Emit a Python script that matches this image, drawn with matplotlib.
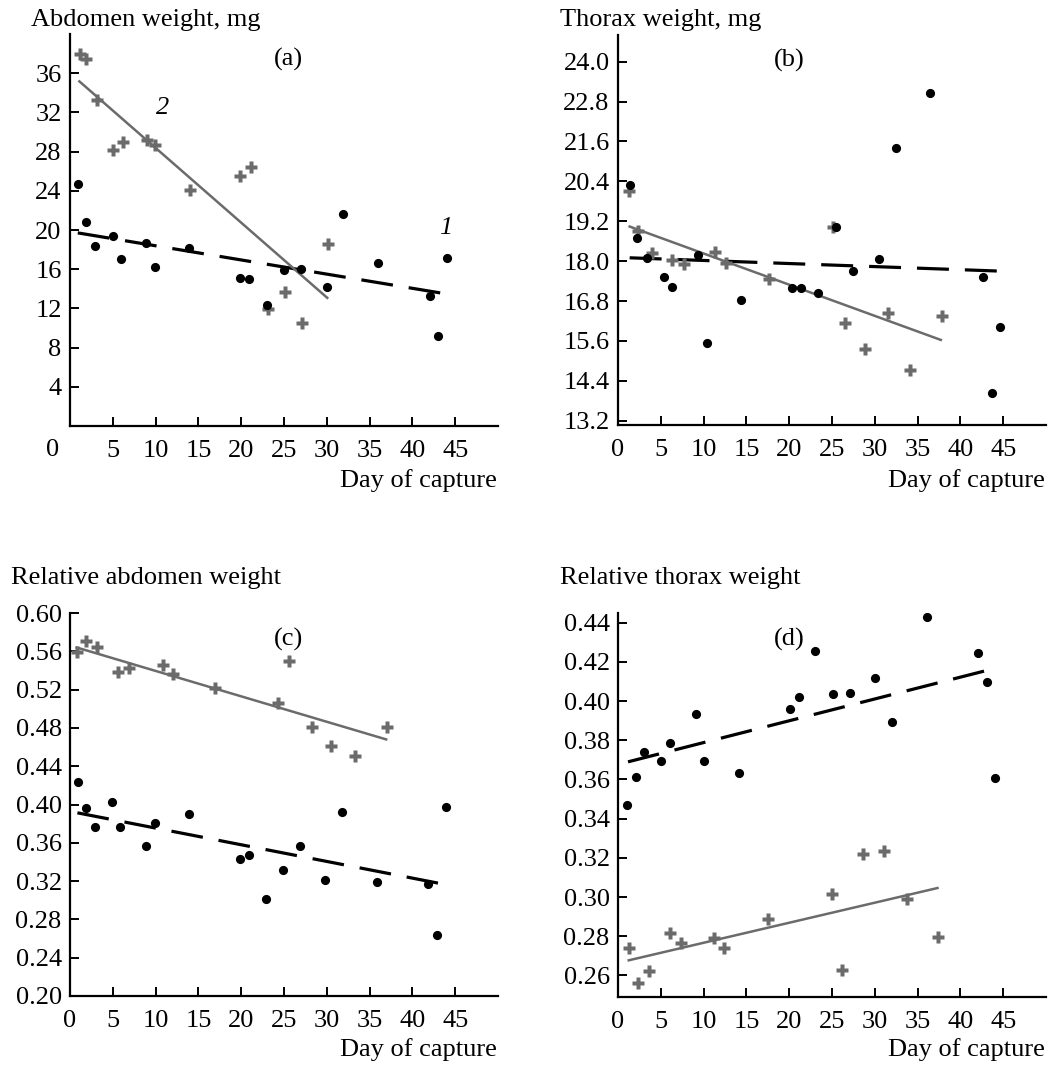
import matplotlib
matplotlib.use('Agg')
import matplotlib.pyplot as plt
import numpy as np

plt.rcParams['font.family'] = ['Liberation Serif', 'DejaVu Serif']
plt.rcParams['font.size'] = 19

GRAY = '#6b6b6b'

# (a) abdomen weight, mg
a_dot_x = [0.98, 1.87, 2.89, 4.96, 5.93, 8.90, 9.87, 13.93, 19.87, 20.92, 22.95, 24.94, 26.97, 29.98, 31.89, 35.95, 42.04, 42.94, 44.03]
a_dot_y = [24.67, 20.83, 18.42, 19.37, 17.02, 18.72, 16.24, 18.21, 15.12, 15.02, 12.33, 15.97, 16.04, 14.20, 21.61, 16.68, 13.22, 9.17, 17.19]
a_crs_x = [1.17, 1.87, 3.12, 5.07, 6.13, 8.98, 9.95, 14.05, 19.91, 21.16, 23.15, 25.10, 27.05, 30.17]
a_crs_y = [37.92, 37.44, 33.23, 28.13, 28.98, 29.22, 28.71, 24.13, 25.48, 26.44, 11.99, 13.63, 10.53, 18.62]
a_fit1 = ([0.90, 44.1], [19.71, 13.46])
a_fit2 = ([1.09, 30.05], [35.17, 13.08])

# (b) thorax weight, mg
b_dot_x = [1.36, 2.26, 3.39, 5.38, 6.35, 9.35, 10.40, 14.41, 20.37, 21.43, 23.41, 25.44, 27.46, 30.50, 32.45, 36.50, 42.58, 43.63, 44.60]
b_dot_y = [20.29, 18.69, 18.08, 17.53, 17.23, 18.18, 15.53, 16.83, 17.18, 17.20, 17.05, 19.04, 17.70, 18.05, 21.41, 23.05, 17.53, 14.02, 16.03]
b_crs_x = [1.29, 2.34, 3.93, 6.35, 7.67, 11.30, 12.58, 17.65, 25.17, 26.49, 28.90, 31.55, 34.09, 37.79]
b_crs_y = [20.11, 18.91, 18.23, 18.03, 17.91, 18.28, 17.93, 17.45, 19.04, 16.13, 15.35, 16.43, 14.74, 16.36]
b_fit1 = ([1.36, 44.6], [18.10, 17.70])
b_fit2 = ([1.36, 37.71], [19.04, 15.63])

# (c) relative abdomen weight
c_dot_x = [0.94, 1.83, 2.89, 4.88, 5.85, 8.85, 9.91, 13.92, 19.81, 20.87, 22.89, 24.88, 26.91, 29.84, 31.79, 35.84, 41.81, 42.82, 43.88]
c_dot_y = [0.4234, 0.3965, 0.3766, 0.4028, 0.3766, 0.3564, 0.3808, 0.3906, 0.3431, 0.3476, 0.3016, 0.3319, 0.3564, 0.3215, 0.3920, 0.3190, 0.3173, 0.2639, 0.3972]
c_crs_x = [0.78, 1.91, 3.20, 5.62, 6.90, 10.84, 12.05, 16.89, 24.26, 25.62, 28.28, 30.50, 33.31, 37.05]
c_crs_y = [0.5595, 0.5710, 0.5640, 0.5386, 0.5430, 0.5455, 0.5368, 0.5222, 0.5065, 0.5500, 0.4813, 0.4610, 0.4506, 0.4813]
c_fit1 = ([0.86, 43.95], [0.3913, 0.3162])
c_fit2 = ([0.78, 36.93], [0.564, 0.468])

# (d) relative thorax weight
d_dot_x = [1.09, 2.06, 3.04, 5.03, 6.04, 9.08, 10.05, 14.10, 20.10, 21.11, 23.06, 25.09, 27.07, 30.00, 32.06, 36.07, 42.00, 43.05, 44.06]
d_dot_y = [0.3468, 0.3613, 0.3741, 0.3693, 0.3787, 0.3932, 0.3693, 0.3634, 0.3959, 0.4022, 0.4255, 0.4034, 0.4042, 0.4119, 0.3894, 0.4431, 0.4243, 0.4099, 0.3605]
d_crs_x = [1.25, 2.34, 3.62, 6.12, 7.40, 11.18, 12.35, 17.53, 25.05, 26.22, 28.63, 31.05, 33.77, 37.40]
d_crs_y = [0.2740, 0.2562, 0.2622, 0.2818, 0.2765, 0.2791, 0.2740, 0.2886, 0.3014, 0.2629, 0.3218, 0.3233, 0.2988, 0.2796]
d_fit1 = ([1.17, 44.02], [0.369, 0.4167])
d_fit2 = ([1.25, 37.32], [0.2677, 0.3046])

x_ticks = [0, 5, 10, 15, 20, 25, 30, 35, 40, 45]


def style_axes(ax):
    for side in ('top', 'right'):
        ax.spines[side].set_visible(False)
    for side in ('left', 'bottom'):
        ax.spines[side].set_linewidth(1.6)
    ax.tick_params(direction='in', length=6.5, width=1.4)
    ax.tick_params(axis='x', pad=10)
    ax.tick_params(axis='y', pad=6)
    ax.set_xlim(0, 50)


def draw_panel(ax, dx, dy, cx, cy, fit1, fit2):
    ax.plot(fit1[0], fit1[1], color='black', lw=2.3, dashes=(10, 5), zorder=2)
    ax.plot(fit2[0], fit2[1], color=GRAY, lw=1.8, zorder=2)
    ax.plot(cx, cy, 'P', color=GRAY, ms=9, mec='none', ls='none', zorder=3)
    ax.plot(dx, dy, 'o', color='black', ms=6.6, mec='none', ls='none', zorder=4)
    style_axes(ax)


def main():
    fig = plt.figure(figsize=(10.55, 10.91), dpi=100)
    ax_a = fig.add_axes([0.0664, 0.6095, 0.4057, 0.3593])
    ax_b = fig.add_axes([0.5858, 0.6104, 0.4057, 0.3575])
    ax_c = fig.add_axes([0.0664, 0.0871, 0.4057, 0.3510])
    ax_d = fig.add_axes([0.5858, 0.0862, 0.4057, 0.3520])

    draw_panel(ax_a, a_dot_x, a_dot_y, a_crs_x, a_crs_y, a_fit1, a_fit2)
    ax_a.set_ylim(0, 40)
    ax_a.set_yticks(np.arange(4, 37, 4))
    ax_a.set_xticks(x_ticks[1:])
    ax_a.text(-2.1, -0.061, '0', transform=ax_a.get_xaxis_transform(), ha='center', va='center')
    ax_a.text(0.51, 0.935, '(a)', transform=ax_a.transAxes, ha='center', va='center')
    ax_a.text(10.8, 32.5, '2', style='italic', ha='center', va='center')
    ax_a.text(43.9, 20.2, '1', style='italic', ha='center', va='center')
    ax_a.text(-0.091, 1.036, 'Abdomen weight, mg', transform=ax_a.transAxes, ha='left', va='center')

    draw_panel(ax_b, b_dot_x, b_dot_y, b_crs_x, b_crs_y, b_fit1, b_fit2)
    ax_b.set_ylim(13.07, 24.8)
    ax_b.set_yticks(np.round(np.arange(13.2, 24.01, 1.2), 1))
    ax_b.yaxis.set_major_formatter(plt.FormatStrFormatter('%.1f'))
    ax_b.set_xticks(x_ticks)
    ax_b.text(0.40, 0.935, '(b)', transform=ax_b.transAxes, ha='center', va='center')
    ax_b.text(-0.1355, 1.038, 'Thorax weight, mg', transform=ax_b.transAxes, ha='left', va='center')

    draw_panel(ax_c, c_dot_x, c_dot_y, c_crs_x, c_crs_y, c_fit1, c_fit2)
    ax_c.set_ylim(0.20, 0.60)
    ax_c.set_yticks(np.round(np.arange(0.20, 0.601, 0.04), 2))
    ax_c.yaxis.set_major_formatter(plt.FormatStrFormatter('%.2f'))
    ax_c.set_xticks(x_ticks)
    ax_c.text(0.51, 0.93, '(c)', transform=ax_c.transAxes, ha='center', va='center')
    ax_c.text(-0.138, 1.091, 'Relative abdomen weight', transform=ax_c.transAxes, ha='left', va='center')

    draw_panel(ax_d, d_dot_x, d_dot_y, d_crs_x, d_crs_y, d_fit1, d_fit2)
    ax_d.set_ylim(0.249, 0.445)
    ax_d.set_yticks(np.round(np.arange(0.26, 0.441, 0.02), 2))
    ax_d.yaxis.set_major_formatter(plt.FormatStrFormatter('%.2f'))
    ax_d.set_xticks(x_ticks)
    ax_d.text(0.40, 0.93, '(d)', transform=ax_d.transAxes, ha='center', va='center')
    ax_d.text(-0.1355, 1.091, 'Relative thorax weight', transform=ax_d.transAxes, ha='left', va='center')

    for ax, yy in ((ax_a, -0.138), (ax_b, -0.141), (ax_c, -0.141), (ax_d, -0.138)):
        ax.text(0.998, yy, 'Day of capture', transform=ax.transAxes, ha='right', va='center')

    fig.savefig('out.png', dpi=100)
    plt.close(fig)
    return 0


if __name__ == '__main__':
    raise SystemExit(main())
